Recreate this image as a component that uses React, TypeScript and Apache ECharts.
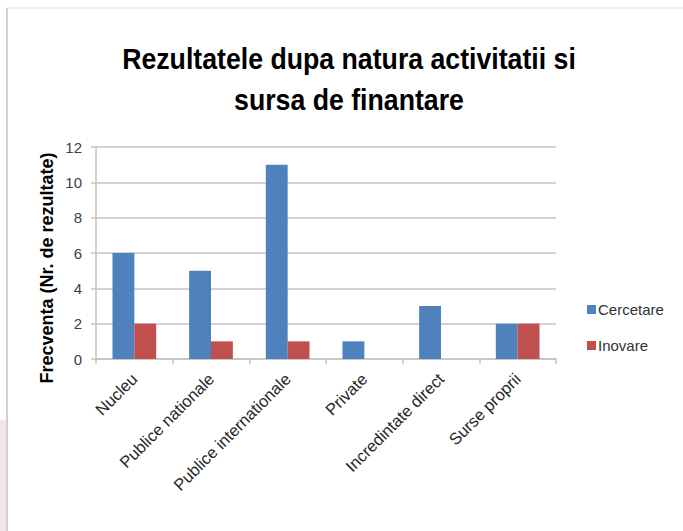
import React, { useEffect, useRef } from "react";
import * as echarts from "echarts";

const categories = [
  "Nucleu",
  "Publice nationale",
  "Publice internationale",
  "Private",
  "Incredintate direct",
  "Surse proprii",
];
const cercetare = [6, 5, 11, 1, 3, 2];
const inovare = [2, 1, 1, null, null, 2];
const seriesNames = ["Cercetare", "Inovare"];
const titleLines = ["Rezultatele dupa natura activitatii si", "sursa de finantare"];
const yAxisTitle = "Frecventa (Nr. de rezultate)";
const yTicks = { min: 0, max: 12, interval: 2 };

const SANS = "'Liberation Sans', Arial, sans-serif";
const GRID = "#c4c4c4";

export default function App() {
  const ref = useRef<HTMLDivElement>(null);
  useEffect(() => {
    if (!ref.current) return;
    const chart = echarts.init(ref.current, null, { renderer: "svg" });
    const titleStyle = {
      align: "center",
      verticalAlign: "middle",
      fontFamily: SANS,
      fontWeight: "bold",
      fontSize: 30,
      fill: "#000000",
    };
    chart.setOption({
      animation: false,
      backgroundColor: "#ffffff",
      legend: {
        orient: "vertical",
        left: 582,
        top: 297,
        itemWidth: 9,
        itemHeight: 9,
        itemGap: 21,
        icon: "rect",
        data: seriesNames,
        textStyle: { fontFamily: SANS, fontSize: 15, color: "#333333", padding: [0, 0, 0, -3] },
      },
      grid: { left: 96, right: 127, top: 147, bottom: 172, containLabel: false },
      xAxis: {
        type: "category",
        data: categories,
        axisLine: { lineStyle: { color: GRID, width: 1.5 } },
        axisTick: { show: true, length: 5, lineStyle: { color: GRID, width: 1.5 } },
        axisLabel: {
          rotate: 45,
          margin: 17,
          fontFamily: SANS,
          fontSize: 16.5,
          color: "#262626",
          interval: 0,
        },
      },
      yAxis: {
        type: "value",
        min: yTicks.min,
        max: yTicks.max,
        interval: yTicks.interval,
        axisLine: { show: true, lineStyle: { color: GRID, width: 1.5 } },
        axisTick: { show: true, length: 5, lineStyle: { color: GRID, width: 1.5 } },
        axisLabel: { margin: 14, fontFamily: SANS, fontSize: 15, color: "#404040" },
        splitLine: { lineStyle: { color: GRID, width: 1.5 } },
      },
      series: [
        {
          name: seriesNames[0],
          type: "bar",
          data: cercetare,
          barGap: "0%",
          barCategoryGap: "43%",
          itemStyle: { color: "#4F81BD" },
        },
        {
          name: seriesNames[1],
          type: "bar",
          data: inovare,
          barGap: "0%",
          barCategoryGap: "43%",
          itemStyle: { color: "#C0504D" },
        },
      ],
      graphic: [
        {
          type: "rect",
          shape: { x: 0, y: 420, width: 6, height: 111 },
          style: { fill: "#f8e6e6" },
          silent: true,
        },
        {
          type: "line",
          shape: { x1: 7, y1: 8, x2: 683, y2: 8 },
          style: { stroke: "#e8e8e8", lineWidth: 1.5 },
          silent: true,
        },
        {
          type: "line",
          shape: { x1: 7, y1: 8, x2: 7, y2: 531 },
          style: { stroke: "#c0c0c0", lineWidth: 1.5 },
          silent: true,
        },
        {
          type: "text",
          x: 349,
          y: 58,
          scaleX: 0.89,
          style: { ...titleStyle, text: titleLines[0] },
        },
        {
          type: "text",
          x: 349,
          y: 99,
          scaleX: 0.89,
          style: { ...titleStyle, text: titleLines[1] },
        },
        {
          type: "text",
          x: 47,
          y: 268,
          rotation: Math.PI / 2,
          style: {
            text: yAxisTitle,
            align: "center",
            verticalAlign: "middle",
            fontFamily: SANS,
            fontWeight: "bold",
            fontSize: 18,
            fill: "#000000",
          },
        },
      ],
    });
    return () => chart.dispose();
  }, []);
  return (
    <div
      ref={ref}
      style={{ position: "fixed", left: 0, top: 0, width: 683, height: 531 }}
    />
  );
}
